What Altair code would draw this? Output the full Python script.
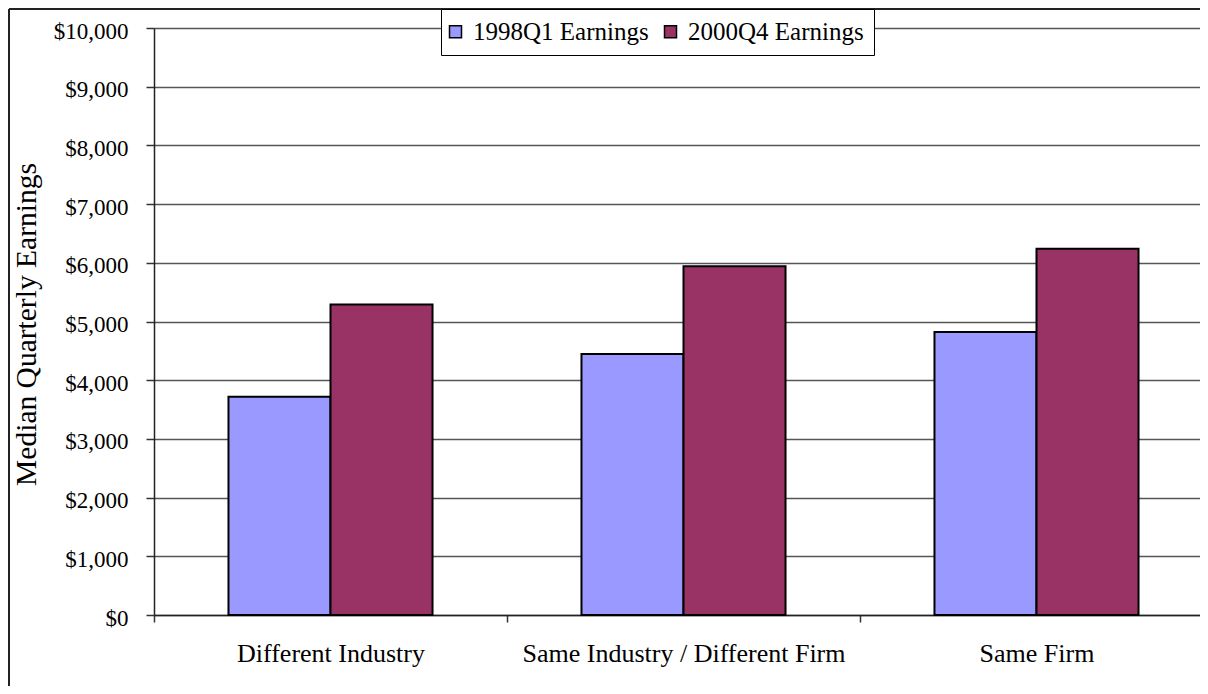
import altair as alt
import pandas as pd

categories = ["Different Industry", "Same Industry / Different Firm", "Same Firm"]
series = ["1998Q1 Earnings", "2000Q4 Earnings"]
earn_1998q1 = [3720, 4445, 4820]
earn_2000q4 = [5290, 5940, 6240]
y_ticks = [0, 1000, 2000, 3000, 4000, 5000, 6000, 7000, 8000, 9000, 10000]
colors = ["#9999FF", "#993366"]

rows = []
for c, a, b in zip(categories, earn_1998q1, earn_2000q4):
    rows.append({"cat": c, "series": series[0], "value": a})
    rows.append({"cat": c, "series": series[1], "value": b})
df = pd.DataFrame(rows)

FONT = "Liberation Serif"

bars = alt.Chart(df).mark_bar(stroke="black", strokeWidth=2).encode(
    x=alt.X("cat:N", sort=categories,
            scale=alt.Scale(paddingInner=0, paddingOuter=0, range=[0, 1059]),
            axis=alt.Axis(title=None, tickBand="extent", labelAngle=0, labelFontSize=26,
                          labelFont=FONT, labelColor="black", labelPadding=18, tickSize=7,
                          labelLimit=1000,
                          tickColor="#333333", tickWidth=1.5, domainColor="#222222",
                          domainWidth=1.5, grid=False)),
    xOffset=alt.XOffset("series:N", sort=series,
                        scale=alt.Scale(paddingInner=0, paddingOuter=0.73)),
    y=alt.Y("value:Q", scale=alt.Scale(domain=[0, 10000], nice=False),
            axis=alt.Axis(values=y_ticks, format="$,.0f", title="Median Quarterly Earnings",
                          titleFont=FONT, titleFontSize=29.5, titleFontWeight="normal",
                          titleColor="black", titleAngle=-90, titleX=-119, titleY=296,
                          titleBaseline="alphabetic", titleAlign="center",
                          labelFont=FONT, labelFontSize=23, labelColor="black",
                          labelPadding=18, tickSize=8, labelOffset=3,
                          tickColor="#333333", tickWidth=1.5, domainColor="#222222",
                          domainWidth=1.5, grid=True, gridColor="#555555", gridWidth=1.3)),
    fill=alt.Fill("series:N", sort=series, scale=alt.Scale(domain=series, range=colors),
                  legend=alt.Legend(title=None, orient="none", legendX=287, legendY=-19,
                                    direction="horizontal", symbolType="square",
                                    symbolSize=144, symbolStrokeColor="black",
                                    symbolStrokeWidth=1.5, symbolOffset=-8,
                                    labelFont=FONT, labelFontSize=25,
                                    labelLimit=1000,
                                    labelColor="black", labelOffset=5, columnPadding=12,
                                    padding=10, strokeColor="black", fillColor="white")),
)

border_left = alt.Chart(df).mark_rule(color="#222222", strokeWidth=2).encode(
    x=alt.value(-145), y=alt.value(-19), y2=alt.value(700))
border_top = alt.Chart(df).mark_rule(color="#222222", strokeWidth=2).encode(
    x=alt.value(-145), x2=alt.value(1100), y=alt.value(-19))

chart = alt.layer(bars, border_left, border_top).properties(
    width=1046, height=587,
    padding={"left": 146, "top": 20, "right": 0, "bottom": 71},
    autosize=alt.AutoSizeParams(type="none"),
    background="white",
).configure_view(stroke=None)

chart.save("out.html", embed_options={"renderer": "svg", "actions": False})
